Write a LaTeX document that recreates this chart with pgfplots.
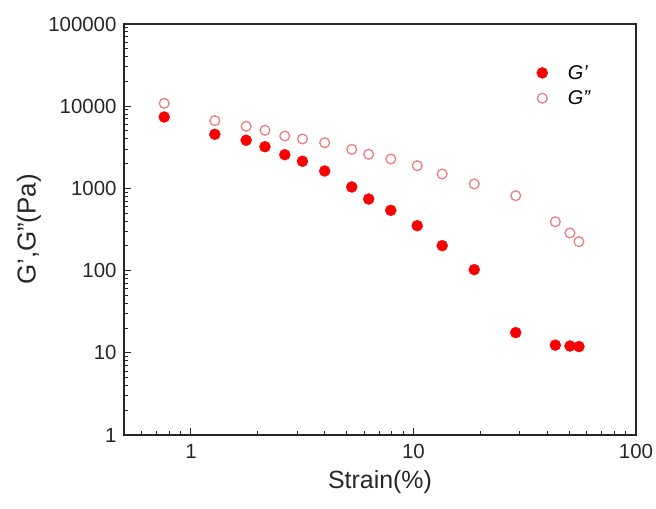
\documentclass[border=0pt]{standalone}
\usepackage{fontspec}
\setmainfont{Liberation Sans}
\usepackage{pgfplots}
\pgfplotsset{compat=1.18}
\definecolor{gp}{RGB}{250,0,0}
\definecolor{gpp}{RGB}{235,125,135}
\begin{document}
\begin{tikzpicture}
\useasboundingbox (-124bp,-74bp) rectangle (532bp,435bp);
\begin{axis}[
  scale only axis,
  width=512bp, height=411bp,
  xmode=log, ymode=log,
  xmin=0.5, xmax=100, ymin=1, ymax=100000,
  axis line style={line width=1.2bp, black!85},
  tick pos=left,
  tick align=inside,
  major tick length=7bp,
  minor tick length=4bp,
  every tick/.style={line width=1bp, black!85},
  xtick={1,10,100}, xticklabels={1,10,100},
  ytick={1,10,100,1000,10000,100000},
  yticklabels={1,10,100,1000,10000,100000},
  minor xtick={0.6,0.7,0.8,0.9,2,3,4,5,6,7,8,9,20,30,40,50,60,70,80,90},
  minor ytick={2,3,4,5,6,7,8,9,20,30,40,50,60,70,80,90,200,300,400,500,600,700,800,900,2000,3000,4000,5000,6000,7000,8000,9000,20000,30000,40000,50000,60000,70000,80000,90000},
  ticklabel style={font=\fontsize{20.5}{24}\selectfont, text=black!85},
  xticklabel style={yshift=-6bp},
  yticklabel style={xshift=-4bp},
  xlabel={Strain(\%)},
  ylabel={G’,G”(Pa)},
  every axis x label/.style={at={([yshift=-47bp]axis description cs:0.5,0)}, anchor=center, font=\fontsize{25}{29}\selectfont, text=black!85},
  every axis y label/.style={at={([xshift=-95bp]axis description cs:0,0.5)}, anchor=center, rotate=90, font=\fontsize{26}{30}\selectfont, text=black!85},
  legend style={draw=none, fill=none, at={(rel axis cs:0.80,0.91)}, anchor=north west, font=\fontsize{20}{23}\selectfont\itshape, row sep=6bp, cells={anchor=west}},
  legend cell align=left,
]
\addplot[only marks, mark=*, mark size=5.5bp, color=gp, mark options={fill=gp, draw=gp}] coordinates {
(0.758,7390) (1.28,4550) (1.77,3850) (2.15,3215) (2.64,2570) (3.17,2137)
(3.99,1628) (5.28,1040) (6.29,743) (7.91,541) (10.39,352) (13.46,201)
(18.75,102.6) (28.8,17.6) (43.4,12.4) (50.5,12.1) (55.4,11.9)
};
\addlegendentry{\hspace{18bp}G'}
\addplot[only marks, mark=o, mark size=4.9bp, color=gpp, mark options={line width=1.3bp, draw=gpp, fill=white}] coordinates {
(0.758,10840) (1.28,6665) (1.77,5690) (2.15,5090) (2.64,4340) (3.17,3990)
(3.99,3595) (5.28,2990) (6.29,2600) (7.91,2280) (10.39,1889) (13.46,1497)
(18.75,1132) (28.8,815) (43.4,393) (50.5,287) (55.4,225)
};
\addlegendentry{\hspace{18bp}G''}
\end{axis}
\end{tikzpicture}
\end{document}
